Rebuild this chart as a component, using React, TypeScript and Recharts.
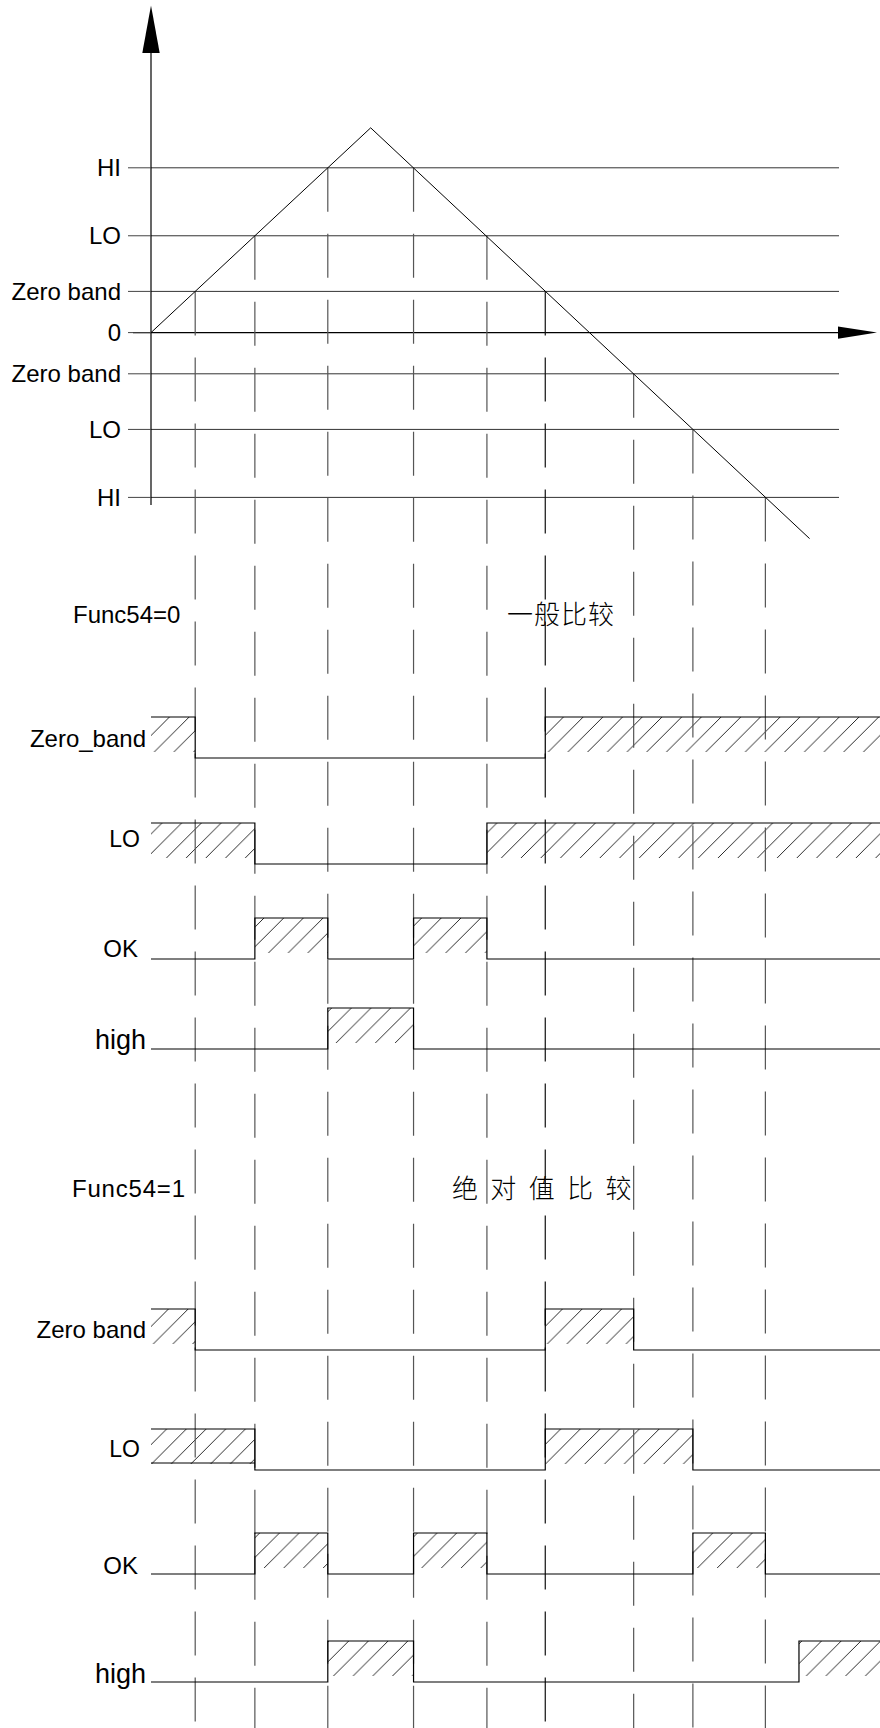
import React from "react";
import { ComposedChart, Line, Area, XAxis, YAxis, ReferenceLine } from "recharts";

// ---- layout (pixels) ----
const W = 880;
const H = 1728;
const AXIS_X = 151; // x of the vertical axis = plot left
const ORIGIN_Y = 332.6; // y of the "0" line
const PX_PER_T = 44.2;
const PX_PER_V = 41.2;
const T_MAX = (W - AXIS_X) / PX_PER_T;
const V_MAX = ORIGIN_Y / PX_PER_V;
const V_MIN = -(H - ORIGIN_Y) / PX_PER_V;
const pxToV = (y: number) => (ORIGIN_Y - y) / PX_PER_V;
const pxToT = (x: number) => (x - AXIS_X) / PX_PER_T;

const ROW_AMP = 41;
const HATCH_H = 35;

const LATIN = "'Liberation Sans', Arial, sans-serif";
const CJK = "'Noto Sans CJK SC', sans-serif";

// ---- data ----
const LEVEL_VALUES = [4, 2.35, 1, 0, -1, -2.35, -4];
const LEVEL_NAMES = ["HI", "LO", "Zero band", "0", "Zero band", "LO", "HI"];

const WAVE_T = [0, 4.97, 14.9];
const WAVE_V = [0, 4.97, -5];

// where the wave crosses each level
const CROSS_T = [1, 2.35, 4, 5.94, 7.6, 8.92, 10.92, 12.26, 13.9];
const CROSS_V = [1, 2.35, 4, 4, 2.35, 1, -1, -2.35, -4];

// digital outputs: [time, level]
const F0_ZERO = [[0, 1], [1, 0], [8.92, 1]];
const F0_LO = [[0, 1], [2.35, 0], [7.6, 1]];
const F0_OK = [[0, 0], [2.35, 1], [4, 0], [5.94, 1], [7.6, 0]];
const F0_HIGH = [[0, 0], [4, 1], [5.94, 0]];

const F1_ZERO = [[0, 1], [1, 0], [8.92, 1], [10.92, 0]];
const F1_LO = [[0, 1], [2.35, 0], [8.92, 1], [12.26, 0]];
const F1_OK = [[0, 0], [2.35, 1], [4, 0], [5.94, 1], [7.6, 0], [12.26, 1], [13.9, 0]];
const F1_HIGH = [[0, 0], [4, 1], [5.94, 0], [14.66, 1]];

const ROWS = [
  { label: "Zero_band", steps: F0_ZERO, top: 717, labelY: 739, size: 24 },
  { label: "LO", steps: F0_LO, top: 823, labelY: 839, size: 23 },
  { label: "OK", steps: F0_OK, top: 918, labelY: 949, size: 24 },
  { label: "high", steps: F0_HIGH, top: 1008, labelY: 1040, size: 27 },
  { label: "Zero band", steps: F1_ZERO, top: 1309, labelY: 1330, size: 24 },
  { label: "LO", steps: F1_LO, top: 1429, labelY: 1449, size: 23 },
  { label: "OK", steps: F1_OK, top: 1533, labelY: 1566, size: 24 },
  { label: "high", steps: F1_HIGH, top: 1641, labelY: 1674, size: 27 },
];

const buildRow = (steps: number[][], top: number) => {
  const topV = pxToV(top);
  const lowV = pxToV(top + ROW_AMP);
  const hatchV = pxToV(top + HATCH_H);
  const pt = (t: number, lvl: number) => ({
    t,
    y: lvl ? topV : lowV,
    band: lvl ? [hatchV, topV] : [topV, topV],
  });
  const pts = steps.map(([t, lvl]) => pt(t, lvl));
  pts.push(pt(T_MAX, steps[steps.length - 1][1]));
  return pts;
};

const waveData = WAVE_T.map((t, i) => ({ t, v: WAVE_V[i] }));

const arrowUp = (p: any) => (
  <g>
    <line x1={p.x1} y1={p.y1} x2={p.x2} y2={p.y2 + 40} stroke="#000" strokeWidth={1.2} />
    <polygon points={`${p.x2},${p.y2} ${p.x2 - 8.7},${p.y2 + 47.5} ${p.x2 + 8.7},${p.y2 + 47.5}`} fill="#000" />
  </g>
);

const arrowRight = (p: any) => (
  <g>
    <line x1={p.x1} y1={p.y1} x2={p.x2 - 30} y2={p.y2} stroke="#000" strokeWidth={1.2} />
    <polygon points={`${p.x2},${p.y2} ${p.x2 - 39},${p.y2 - 6.2} ${p.x2 - 39},${p.y2 + 6.2}`} fill="#000" />
  </g>
);

export default function App() {
  return (
    <div style={{ position: "absolute", left: 0, top: 0, width: W, height: H, background: "#fff" }}>
      <ComposedChart width={W} height={H} margin={{ top: 0, right: 0, bottom: 0, left: 0 }}>
        <defs>
          <pattern id="hatch" patternUnits="userSpaceOnUse" width={19.7} height={19.7}>
            <path
              d="M0,19.7 L19.7,0 M-4.9,4.9 L4.9,-4.9 M14.8,24.6 L24.6,14.8"
              stroke="#111"
              strokeWidth={0.9}
            />
          </pattern>
        </defs>
        <XAxis type="number" dataKey="t" domain={[0, T_MAX]} allowDataOverflow hide />
        <YAxis
          type="number"
          width={AXIS_X}
          domain={[V_MIN, V_MAX]}
          allowDataOverflow
          ticks={LEVEL_VALUES}
          interval={0}
          tickFormatter={(v: number) => LEVEL_NAMES[LEVEL_VALUES.indexOf(v)] ?? ""}
          axisLine={false}
          tickLine={{ stroke: "#444" }}
          tickSize={23}
          tickMargin={7}
          tick={{ fill: "#000", fontSize: 24, fontFamily: LATIN }}
        />

        {LEVEL_VALUES.filter((v) => v !== 0).map((v, i) => (
          <ReferenceLine
            key={`lvl${i}`}
            segment={[{ x: 0, y: v }, { x: pxToT(839), y: v }]}
            stroke="#333"
            strokeWidth={1}
          />
        ))}

        <ReferenceLine
          segment={[{ x: pxToT(133), y: 0 }, { x: pxToT(877), y: 0 }]}
          ifOverflow="visible"
          shape={arrowRight}
        />
        <ReferenceLine
          segment={[{ x: 0, y: pxToV(505) }, { x: 0, y: pxToV(5.5) }]}
          ifOverflow="visible"
          shape={arrowUp}
        />

        {CROSS_T.map((t, i) => (
          <ReferenceLine
            key={`cross${i}`}
            segment={[{ x: t, y: CROSS_V[i] }, { x: t, y: V_MIN }]}
            stroke={i === 5 ? "#111" : "#555"}
            strokeWidth={1.2}
            strokeDasharray="44 22"
          />
        ))}

        <Line
          data={waveData}
          dataKey="v"
          type="linear"
          stroke="#000"
          strokeWidth={1}
          dot={false}
          isAnimationActive={false}
        />

        {ROWS.map((r, i) => {
          const pts = buildRow(r.steps, r.top);
          return [
            <Area
              key={`a${i}`}
              data={pts}
              dataKey="band"
              type="stepAfter"
              stroke="none"
              fill="url(#hatch)"
              fillOpacity={1}
              isAnimationActive={false}
              activeDot={false}
            />,
            <Line
              key={`l${i}`}
              data={pts}
              dataKey="y"
              type="stepAfter"
              stroke="#000"
              strokeWidth={1.2}
              dot={false}
              isAnimationActive={false}
              activeDot={false}
            />,
          ];
        })}

        {/* bottom edge of the first LO box in the second diagram */}
        <ReferenceLine
          segment={[{ x: 0, y: pxToV(1463) }, { x: 2.35, y: pxToV(1463) }]}
          stroke="#000"
          strokeWidth={1}
        />

        {ROWS.map((r, i) => (
          <text
            key={`t${i}`}
            x={r.label === "LO" ? 140 : r.label === "OK" ? 138 : 146}
            y={r.labelY}
            dy="0.35em"
            textAnchor="end"
            fontSize={r.size}
            fontFamily={LATIN}
            fill="#000"
          >
            {r.label}
          </text>
        ))}

        <text x={73} y={615} dy="0.35em" fontSize={24} fontFamily={LATIN} fill="#000">
          Func54=0
        </text>
        <text x={72} y={1189} dy="0.35em" fontSize={24} fontFamily={LATIN} fill="#000" letterSpacing={0.8}>
          Func54=1
        </text>
        <text x={507} y={615} dy="0.36em" fontSize={26} fontFamily={CJK} fontWeight={300} fill="#000" letterSpacing={1}>
          一般比较
        </text>
        <text x={452} y={1189} dy="0.36em" fontSize={26} fontFamily={CJK} fontWeight={300} fill="#000" letterSpacing={3.3}>
          绝 对 值 比 较
        </text>
      </ComposedChart>
    </div>
  );
}
